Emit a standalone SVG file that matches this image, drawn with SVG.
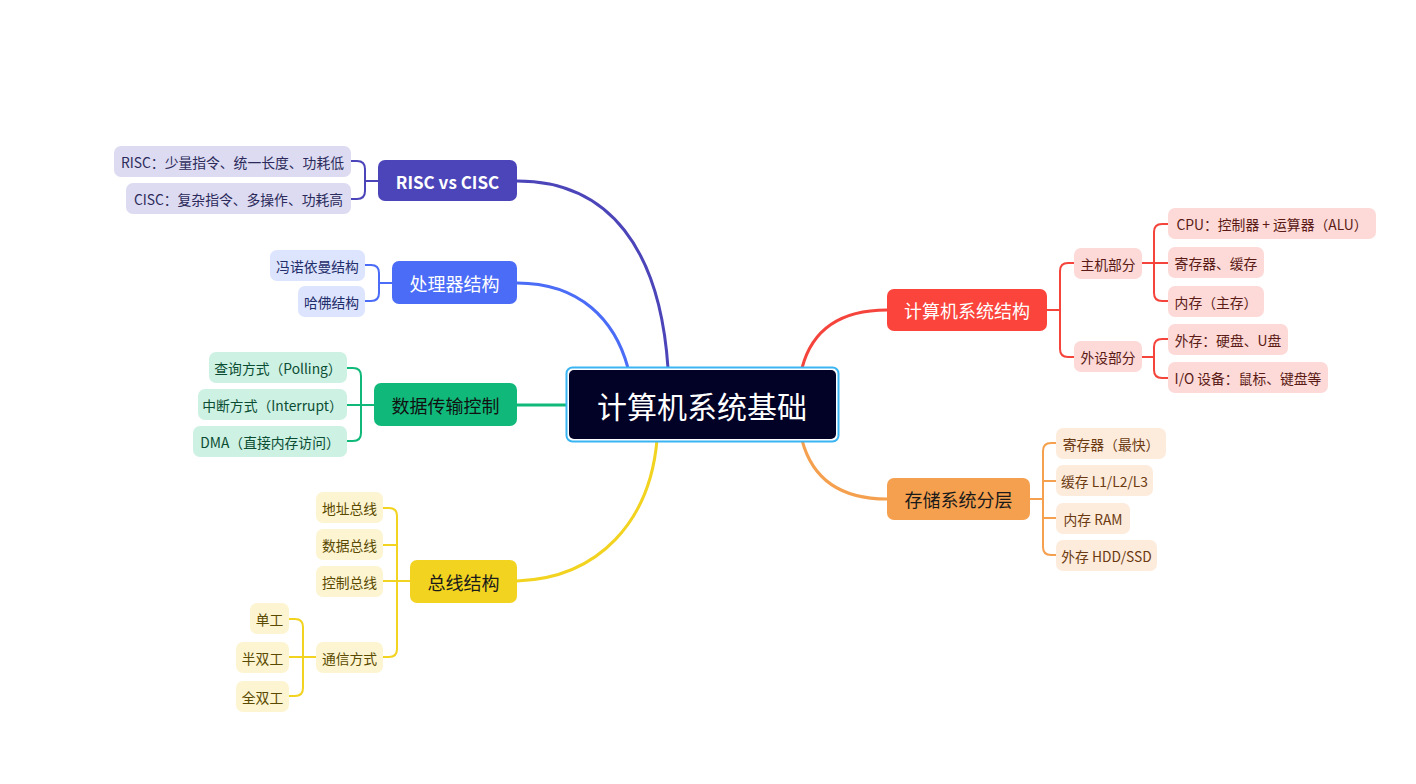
<svg xmlns="http://www.w3.org/2000/svg" width="1416" height="784" viewBox="0 0 1416 784">
<style>
text{font-family:"Noto Sans CJK SC","Noto Sans",sans-serif;text-anchor:middle;dominant-baseline:central}
.c{font-size:13.8px}
.m{font-size:18px}
.w{fill:#ffffff}
.conn path{fill:none;stroke-linecap:round}
.main{stroke-width:3}
.sub{stroke-width:2}
.red{stroke:#f5443c}.org{stroke:#f5a04e}.ind{stroke:#4c45b9}.blu{stroke:#4a6cf7}.grn{stroke:#10b97a}.yel{stroke:#f2d320}
</style>
<rect width="1416" height="784" fill="#ffffff"/>
<g id="connectors" class="conn">
<path class="main ind" d="M517,181 C610,181 660,250 668,368"/>
<path class="main blu" d="M517,283 C580,283 615,320 628,368"/>
<path class="main grn" d="M517,405 L567,405"/>
<path class="main yel" d="M517,581 C600,578 650,520 657,440"/>
<path class="main red" d="M887,310 C840,310 812,330 802,368"/>
<path class="main org" d="M887,499 C840,499 812,478 802,440"/>
<path class="sub red" d="M1047,310 H1060 M1074,263 H1068 Q1060,263 1060,271 V349 Q1060,357 1068,357 H1074"/>
<path class="sub red" d="M1142,263 H1154 M1168,224 H1162 Q1154,224 1154,232 V293 Q1154,301 1162,301 H1168 M1154,263 H1168"/>
<path class="sub red" d="M1142,357 H1154 M1168,339 H1162 Q1154,339 1154,347 V370 Q1154,378 1162,378 H1168"/>
<path class="sub org" d="M1030,499 H1043 M1056,443 H1051 Q1043,443 1043,451 V547 Q1043,555 1051,555 H1056 M1043,481 H1056 M1043,518 H1056"/>
<path class="sub ind" d="M378,181 H365 M351,161 H357 Q365,161 365,169 V191 Q365,199 357,199 H351"/>
<path class="sub blu" d="M392,283 H379 M365,265 H371 Q379,265 379,273 V293 Q379,301 371,301 H365"/>
<path class="sub grn" d="M374,405 H361 M347,368 H353 Q361,368 361,376 V433 Q361,441 353,441 H347 M361,405 H347"/>
<path class="sub yel" d="M410,581 H397 M383,508 H389 Q397,508 397,516 V649 Q397,657 389,657 H383 M397,545 H383 M397,581 H383"/>
<path class="sub yel" d="M316,657 H303 M289,619 H295 Q303,619 303,627 V688 Q303,696 295,696 H289 M303,657 H289"/>
</g>
<g id="root">
<rect x="566.5" y="367.5" width="272" height="74" rx="6" fill="#ffffff" stroke="#3bb4f2" stroke-width="2"/>
<rect x="569" y="370" width="267" height="69" rx="5" fill="#020226"/>
<text x="702" y="405" class="w" style="font-size:30px">计算机系统基础</text>
</g>
<g id="n-arch">
<rect x="887" y="289" width="160" height="42" rx="7" fill="#fb443b"/>
<text x="967" y="310" class="m w">计算机系统结构</text>
</g>
<g id="n-host"><rect x="1074" y="248" width="68" height="31" rx="7" fill="#fdd9d7"/><text x="1108" y="263.5" class="c" fill="#5a1a15">主机部分</text></g>
<g id="n-periph"><rect x="1074" y="341" width="68" height="31" rx="7" fill="#fdd9d7"/><text x="1108" y="356.5" class="c" fill="#5a1a15">外设部分</text></g>
<g id="n-cpu"><rect x="1168" y="208" width="208" height="31" rx="7" fill="#fdd9d7"/><text x="1272" y="223.5" class="c" fill="#5a1a15">CPU：控制器 + 运算器（ALU）</text></g>
<g id="n-reg"><rect x="1168" y="247" width="96" height="31" rx="7" fill="#fdd9d7"/><text x="1216" y="262.5" class="c" fill="#5a1a15">寄存器、缓存</text></g>
<g id="n-mem"><rect x="1168" y="286" width="96" height="31" rx="7" fill="#fdd9d7"/><text x="1216" y="301.5" class="c" fill="#5a1a15">内存（主存）</text></g>
<g id="n-ext"><rect x="1168" y="324" width="120" height="31" rx="7" fill="#fdd9d7"/><text x="1228" y="339.5" class="c" fill="#5a1a15">外存：硬盘、U盘</text></g>
<g id="n-io"><rect x="1168" y="362" width="160" height="31" rx="7" fill="#fdd9d7"/><text x="1248" y="377.5" class="c" fill="#5a1a15">I/O 设备：鼠标、键盘等</text></g>
<g id="n-storage">
<rect x="887" y="478" width="143" height="42" rx="7" fill="#f5a04e"/>
<text x="958.5" y="499" class="m" fill="#1a1a1a">存储系统分层</text>
</g>
<g id="n-s1"><rect x="1056" y="428" width="110" height="31" rx="7" fill="#fdebdc"/><text x="1111" y="443.5" class="c" fill="#6b3a10">寄存器（最快）</text></g>
<g id="n-s2"><rect x="1056" y="465" width="97" height="31" rx="7" fill="#fdebdc"/><text x="1104.5" y="480.5" class="c" fill="#6b3a10">缓存 L1/L2/L3</text></g>
<g id="n-s3"><rect x="1056" y="503" width="74" height="31" rx="7" fill="#fdebdc"/><text x="1093" y="518.5" class="c" fill="#6b3a10">内存 RAM</text></g>
<g id="n-s4"><rect x="1056" y="540" width="101" height="31" rx="7" fill="#fdebdc"/><text x="1106.5" y="555.5" class="c" fill="#6b3a10">外存 HDD/SSD</text></g>
<g id="n-risc">
<rect x="378" y="160" width="139" height="41" rx="7" fill="#4c45b9"/>
<text x="447.5" y="181" class="m w" style="font-weight:bold;font-size:17px">RISC vs CISC</text>
</g>
<g id="n-r1"><rect x="114" y="146" width="237" height="31" rx="7" fill="#dcdbf1"/><text x="232.5" y="161.5" class="c" fill="#2b2a5a">RISC：少量指令、统一长度、功耗低</text></g>
<g id="n-r2"><rect x="126" y="183" width="225" height="31" rx="7" fill="#dcdbf1"/><text x="238.5" y="198.5" class="c" fill="#2b2a5a">CISC：复杂指令、多操作、功耗高</text></g>
<g id="n-proc">
<rect x="392" y="261" width="125" height="43" rx="7" fill="#4a6cf7"/>
<text x="454.5" y="283" class="m w">处理器结构</text>
</g>
<g id="n-p1"><rect x="270" y="250" width="95" height="31" rx="7" fill="#dde4fd"/><text x="317.5" y="265.5" class="c" fill="#1f2d6b">冯诺依曼结构</text></g>
<g id="n-p2"><rect x="298" y="286" width="67" height="31" rx="7" fill="#dde4fd"/><text x="331.5" y="301.5" class="c" fill="#1f2d6b">哈佛结构</text></g>
<g id="n-data">
<rect x="374" y="383" width="143" height="43" rx="7" fill="#10b97a"/>
<text x="445.5" y="405" class="m" fill="#111111">数据传输控制</text>
</g>
<g id="n-d1"><rect x="209" y="352" width="138" height="31" rx="7" fill="#cdf1e3"/><text x="278" y="367.5" class="c" fill="#0b4d33">查询方式（Polling）</text></g>
<g id="n-d2"><rect x="198" y="389" width="149" height="31" rx="7" fill="#cdf1e3"/><text x="272.5" y="404.5" class="c" fill="#0b4d33">中断方式（Interrupt）</text></g>
<g id="n-d3"><rect x="193" y="426" width="154" height="31" rx="7" fill="#cdf1e3"/><text x="270" y="441.5" class="c" fill="#0b4d33">DMA（直接内存访问）</text></g>
<g id="n-bus">
<rect x="410" y="560" width="107" height="43" rx="7" fill="#f2d320"/>
<text x="463.5" y="581.5" class="m" fill="#1a1a1a">总线结构</text>
</g>
<g id="n-b1"><rect x="316" y="492" width="67" height="31" rx="7" fill="#fdf5d1"/><text x="349.5" y="507.5" class="c" fill="#5a4a00">地址总线</text></g>
<g id="n-b2"><rect x="316" y="529" width="67" height="31" rx="7" fill="#fdf5d1"/><text x="349.5" y="544.5" class="c" fill="#5a4a00">数据总线</text></g>
<g id="n-b3"><rect x="316" y="566" width="67" height="31" rx="7" fill="#fdf5d1"/><text x="349.5" y="581.5" class="c" fill="#5a4a00">控制总线</text></g>
<g id="n-b4"><rect x="316" y="642" width="67" height="31" rx="7" fill="#fdf5d1"/><text x="349.5" y="657.5" class="c" fill="#5a4a00">通信方式</text></g>
<g id="n-b41"><rect x="250" y="603" width="39" height="31" rx="7" fill="#fdf5d1"/><text x="269.5" y="618.5" class="c" fill="#5a4a00">单工</text></g>
<g id="n-b42"><rect x="236" y="642" width="53" height="31" rx="7" fill="#fdf5d1"/><text x="262.5" y="657.5" class="c" fill="#5a4a00">半双工</text></g>
<g id="n-b43"><rect x="236" y="681" width="53" height="31" rx="7" fill="#fdf5d1"/><text x="262.5" y="696.5" class="c" fill="#5a4a00">全双工</text></g>
</svg>
